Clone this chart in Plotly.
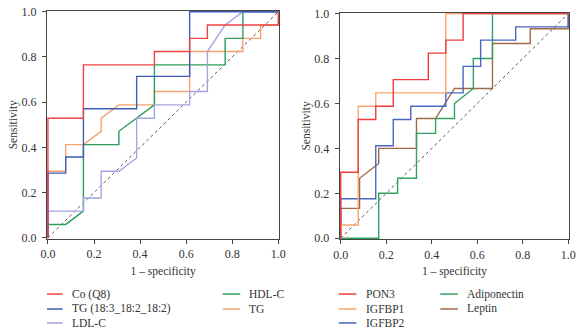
import plotly.graph_objects as go

W, H = 582, 328

# ---------------- data ----------------
left_names = ["Co (Q8)", "TG (18:3_18:2_18:2)", "LDL-C", "HDL-C", "TG"]
left_colors = ["#ef4343", "#3f5bb5", "#a4a4e2", "#2f9e5c", "#f7a06e"]

co_fpr = [0, 0, 0.154, 0.154, 0.462, 0.462, 0.615, 0.615, 0.692, 0.692, 1.0, 1.0]
co_tpr = [0, 0.529, 0.529, 0.765, 0.765, 0.824, 0.824, 0.882, 0.882, 0.941, 0.941, 1.0]

tg18_fpr = [0, 0, 0.077, 0.077, 0.154, 0.154, 0.385, 0.385, 0.615, 0.615, 1.0]
tg18_tpr = [0, 0.286, 0.286, 0.357, 0.357, 0.571, 0.571, 0.714, 0.714, 1.0, 1.0]

ldl_fpr = [0, 0, 0.154, 0.154, 0.231, 0.231, 0.308, 0.385, 0.385, 0.462, 0.462,
           0.615, 0.615, 0.692, 0.692, 0.769, 0.846, 1.0]
ldl_tpr = [0, 0.118, 0.118, 0.176, 0.176, 0.294, 0.294, 0.353, 0.529, 0.529, 0.588,
           0.588, 0.647, 0.647, 0.824, 0.941, 1.0, 1.0]

hdl_fpr = [0, 0, 0.077, 0.154, 0.154, 0.308, 0.308, 0.462, 0.462, 0.769, 0.769,
           0.846, 0.846, 1.0]
hdl_tpr = [0, 0.059, 0.059, 0.118, 0.412, 0.412, 0.471, 0.588, 0.765, 0.765, 0.882,
           0.882, 1.0, 1.0]

tg_fpr = [0, 0, 0.077, 0.077, 0.154, 0.231, 0.231, 0.308, 0.462, 0.462, 0.615,
          0.615, 0.846, 0.846, 0.923, 0.923, 1.0, 1.0]
tg_tpr = [0, 0.294, 0.294, 0.412, 0.412, 0.471, 0.529, 0.588, 0.588, 0.647, 0.647,
          0.824, 0.824, 0.882, 0.882, 0.941, 0.941, 1.0]

right_names = ["PON3", "IGFBP1", "IGFBP2", "Adiponectin", "Leptin"]
right_colors = ["#f03c3c", "#f8a66b", "#4a66c0", "#33a060", "#a0694a"]

pon3_fpr = [0, 0, 0.077, 0.077, 0.154, 0.154, 0.231, 0.231, 0.385, 0.385, 0.462,
            0.462, 0.538, 0.538, 1.0]
pon3_tpr = [0, 0.294, 0.294, 0.529, 0.529, 0.588, 0.588, 0.706, 0.706, 0.824, 0.824,
            0.882, 0.882, 1.0, 1.0]

igfbp1_fpr = [0, 0, 0.077, 0.077, 0.154, 0.154, 0.462, 0.462, 1.0]
igfbp1_tpr = [0, 0.059, 0.059, 0.588, 0.588, 0.647, 0.647, 1.0, 1.0]

igfbp2_fpr = [0, 0, 0.154, 0.154, 0.231, 0.231, 0.308, 0.308, 0.462, 0.462, 0.538,
              0.538, 0.615, 0.615, 0.769, 0.769, 1.0, 1.0]
igfbp2_tpr = [0, 0.176, 0.176, 0.412, 0.412, 0.529, 0.529, 0.588, 0.588, 0.647, 0.647,
              0.765, 0.765, 0.882, 0.882, 0.941, 0.941, 1.0]

adipo_fpr = [0, 0.167, 0.167, 0.25, 0.25, 0.333, 0.333, 0.417, 0.417, 0.5, 0.5,
             0.583, 0.583, 0.667, 0.667, 1.0]
adipo_tpr = [0, 0, 0.2, 0.2, 0.267, 0.267, 0.467, 0.467, 0.533, 0.533, 0.6,
             0.667, 0.8, 0.8, 1.0, 1.0]

leptin_fpr = [0, 0, 0.083, 0.083, 0.167, 0.167, 0.333, 0.333, 0.417, 0.5, 0.667,
              0.667, 0.833, 0.833, 1.0, 1.0]
leptin_tpr = [0, 0.133, 0.133, 0.267, 0.333, 0.4, 0.4, 0.533, 0.533, 0.667, 0.667,
              0.867, 0.867, 0.933, 0.933, 1.0]

ref_line = [0, 1]
tick_vals = [0, 0.2, 0.4, 0.6, 0.8, 1.0]
tick_text = ["0.0", "0.2", "0.4", "0.6", "0.8", "1.0"]
x_title = "1 – specificity"
y_title = "Sensitivity"

left_series = [(co_fpr, co_tpr), (tg18_fpr, tg18_tpr), (ldl_fpr, ldl_tpr),
               (hdl_fpr, hdl_tpr), (tg_fpr, tg_tpr)]
right_series = [(pon3_fpr, pon3_tpr), (igfbp1_fpr, igfbp1_tpr), (igfbp2_fpr, igfbp2_tpr),
                (adipo_fpr, adipo_tpr), (leptin_fpr, leptin_tpr)]

# ---------------- figure ----------------
FONT = "Liberation Serif"
TXT = "#333333"
fig = go.Figure()

for xa, ya in [("x", "y"), ("x2", "y2")]:
    fig.add_trace(go.Scatter(x=ref_line, y=ref_line, mode="lines", xaxis=xa, yaxis=ya,
                             line=dict(color="#555555", width=1, dash="dot"),
                             showlegend=False, hoverinfo="skip"))

# draw in reverse so the first series is on top
for (fx, ty), name, col in reversed(list(zip(left_series, left_names, left_colors))):
    fig.add_trace(go.Scatter(x=fx, y=ty, mode="lines", name=name, xaxis="x", yaxis="y",
                             line=dict(color=col, width=1.4), showlegend=False))
for (fx, ty), name, col in reversed(list(zip(right_series, right_names, right_colors))):
    fig.add_trace(go.Scatter(x=fx, y=ty, mode="lines", name=name, xaxis="x2", yaxis="y2",
                             line=dict(color=col, width=1.4), showlegend=False))

ax_common = dict(range=[-0.004, 1.004], showgrid=False, zeroline=False, showline=True,
                 linecolor="#444444", linewidth=1.2, mirror=True, ticks="outside",
                 ticklen=4, tickwidth=1, tickcolor="#444444", tickvals=tick_vals,
                 ticktext=tick_text, tickfont=dict(family=FONT, size=12, color=TXT),
                 fixedrange=True)

fig.update_layout(
    width=W, height=H, margin=dict(l=0, r=0, t=0, b=0),
    paper_bgcolor="white", plot_bgcolor="white",
    font=dict(family=FONT, size=12, color=TXT),
    xaxis=dict(domain=[41 / W, 279 / W], anchor="y",
               title=dict(text=x_title, standoff=6, font=dict(family=FONT, size=11.5, color=TXT)),
               **ax_common),
    yaxis=dict(domain=[1 - 241.5 / H, 1 - 5 / H], anchor="x", ticklabelstandoff=3,
               title=dict(text=y_title, standoff=1, font=dict(family=FONT, size=11.5, color=TXT)),
               **ax_common),
    xaxis2=dict(domain=[341 / W, 576 / W], anchor="y2",
                title=dict(text=x_title, standoff=6, font=dict(family=FONT, size=11.5, color=TXT)),
                **ax_common),
    yaxis2=dict(domain=[1 - 242 / H, 1 - 7 / H], anchor="x2", ticklabelstandoff=3,
                title=dict(text=y_title, standoff=1, font=dict(family=FONT, size=11.5, color=TXT)),
                **ax_common),
)

# ---------------- manual legends ----------------
rows_y = [299, 314.5, 329]
def add_legend(names, colors, cols):
    # cols: list of (line_x0, line_x1, text_x) per column; 3 items in col 1, 2 in col 2
    for i, (name, col) in enumerate(zip(names, colors)):
        c = 0 if i < 3 else 1
        r = i if i < 3 else i - 3
        lx0, lx1, tx = cols[c]
        yy = 1 - rows_y[r] / H
        fig.add_shape(type="line", xref="paper", yref="paper", x0=lx0 / W, x1=lx1 / W,
                      y0=yy, y1=yy, line=dict(color=col, width=1.5))
        fig.add_annotation(xref="paper", yref="paper", x=tx / W, y=yy, text=name,
                           showarrow=False, xanchor="left", yanchor="middle",
                           font=dict(family=FONT, size=11.5, color=TXT))

add_legend(left_names, left_colors, [(41, 57, 65), (221, 239, 246)])
add_legend(right_names, right_colors, [(340, 358, 366), (444, 462, 469)])

fig.write_html("out.html")
